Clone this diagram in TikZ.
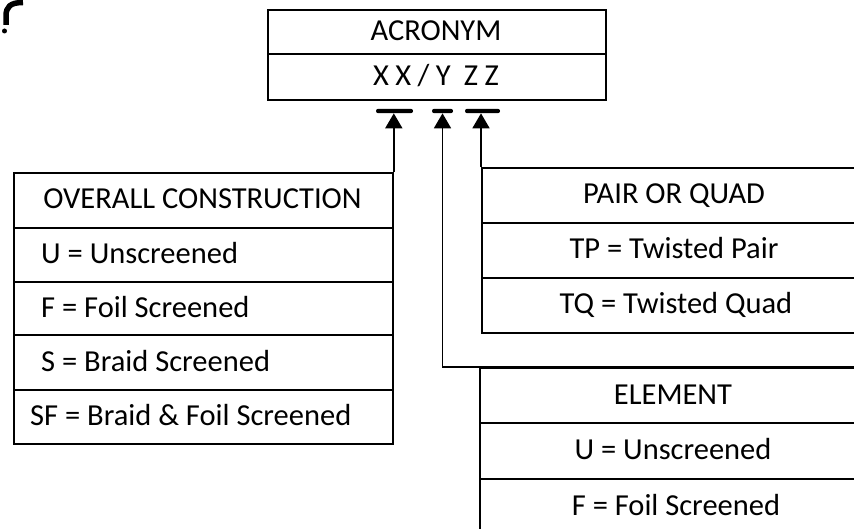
\documentclass[tikz,border=0pt]{standalone}
\usepackage{fontspec}
\setmainfont{Carlito}
\usetikzlibrary{arrows.meta}
\begin{document}
\begin{tikzpicture}[x=1pt,y=-1pt,
  cell/.style={draw, line width=1.8pt, inner sep=0pt, anchor=north west},
  lbl/.style={font=\fontsize{30.5}{36}\selectfont, inner sep=0pt},
  conn/.style={line width=1.8pt},
  tip/.style={-{Triangle[length=15pt,width=17pt]}},
  barbox/.style={fill, rounded corners=2pt, inner sep=0pt, minimum height=4.3pt}]
\useasboundingbox (0,0) rectangle (854,529);
\clip (0,0) rectangle (854,529);
% corner fragment
\draw[line width=5.5pt] (23,2.5) .. controls (10,2.5) and (6,7) .. (6,16) -- (6,25);
\fill (4.5,31) circle (2.5pt);
% acronym box
\node[cell, minimum width=338pt, minimum height=44pt] (ac1) at (267,9) {};
\node[cell, minimum width=338pt, minimum height=46pt] (ac2) at (267,53) {};
\node[lbl, anchor=base] (ac1t) at (436,40.5) {ACRONYM};
\node[lbl, anchor=base] (ac2t) at (436,85.5) {\addfontfeature{LetterSpace=21}XX/Y ZZ};
% overall construction
\node[cell, minimum width=379pt, minimum height=55pt] (oc0) at (13,172) {};
\node[cell, minimum width=379pt, minimum height=54pt] (oc1) at (13,227) {};
\node[cell, minimum width=379pt, minimum height=53pt] (oc2) at (13,281) {};
\node[cell, minimum width=379pt, minimum height=55pt] (oc3) at (13,334) {};
\node[cell, minimum width=379pt, minimum height=54pt] (oc4) at (13,389) {};
\node[lbl, anchor=base] (oc0t) at (202.5,209) {OVERALL CONSTRUCTION};
\node[lbl, anchor=base west] (oc1t) at (41,263.5) {U = Unscreened};
\node[lbl, anchor=base west] (oc2t) at (41,317) {F = Foil Screened};
\node[lbl, anchor=base west] (oc3t) at (41,371) {S = Braid Screened};
\node[lbl, anchor=base west] (oc4t) at (30,425.5) {SF = Braid \& Foil Screened};
% pair or quad
\node[cell, minimum width=385pt, minimum height=55pt] (pr0) at (481,167) {};
\node[cell, minimum width=385pt, minimum height=55pt] (pr1) at (481,222) {};
\node[cell, minimum width=385pt, minimum height=55pt] (pr2) at (481,277) {};
\node[lbl, anchor=base] (pr0t) at (674,204) {PAIR OR QUAD};
\node[lbl, anchor=base] (pr1t) at (674,259) {TP = Twisted Pair};
\node[lbl, anchor=base] (pr2t) at (676,314) {TQ = Twisted Quad};
% element
\node[cell, minimum width=387pt, minimum height=55pt] (el0) at (479,367) {};
\node[cell, minimum width=387pt, minimum height=56pt] (el1) at (479,422) {};
\node[cell, minimum width=387pt, minimum height=55pt] (el2) at (479,478) {};
\node[lbl, anchor=base] (el0t) at (673,404) {ELEMENT};
\node[lbl, anchor=base] (el1t) at (673,459.5) {U = Unscreened};
\node[lbl, anchor=base] (el2t) at (676,515) {F = Foil Screened};
% bars
\node[barbox, minimum width=37pt] (b1) at (394.5,111) {};
\node[barbox, minimum width=21pt] (b2) at (442.5,111) {};
\node[barbox, minimum width=35pt] (b3) at (482.5,111) {};
% connectors
\draw[conn,tip] (oc0.north east) -- (oc0.north east |- b1.south);
\draw[conn,tip] (el0.north east) -| (b2.south);
\draw[conn,tip] (pr0.north west) -- (pr0.north west |- b3.south);
\end{tikzpicture}
\end{document}
